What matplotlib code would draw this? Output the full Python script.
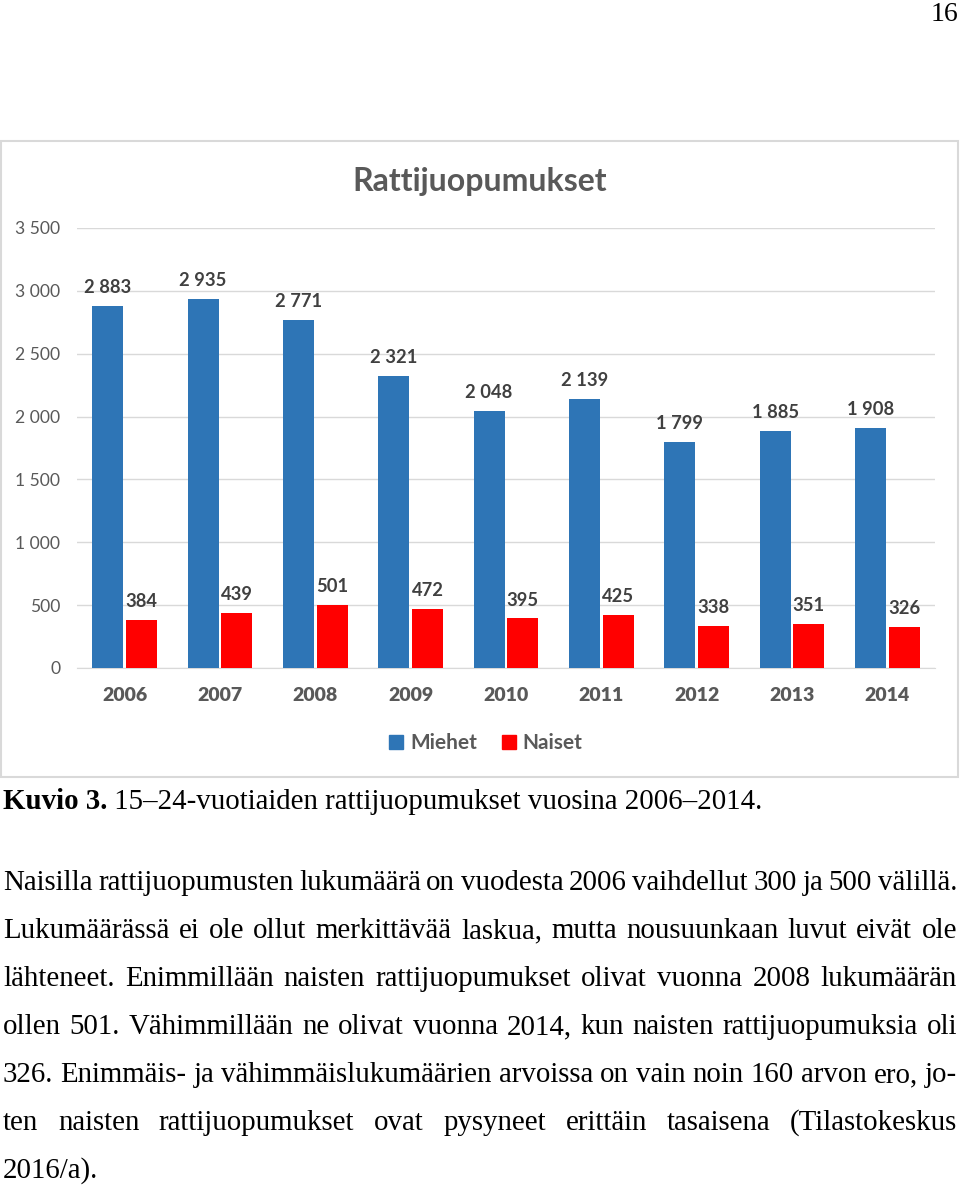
import numpy as np
import matplotlib
matplotlib.use("Agg")
import matplotlib.pyplot as plt
from matplotlib.patches import Rectangle, Patch

W, H = 960, 1197

years = ["2006", "2007", "2008", "2009", "2010", "2011", "2012", "2013", "2014"]
miehet = [2883, 2935, 2771, 2321, 2048, 2139, 1799, 1885, 1908]
naiset = [384, 439, 501, 472, 395, 425, 338, 351, 326]
yticks = [0, 500, 1000, 1500, 2000, 2500, 3000, 3500]

caption_bold = "Kuvio 3."
caption_rest = " 15\u201324-vuotiaiden rattijuopumukset vuosina 2006\u20132014."
paragraph = [
    "Naisilla rattijuopumusten lukumäärä on vuodesta 2006 vaihdellut 300 ja 500 välillä.",
    "Lukumäärässä ei ole ollut merkittävää laskua, mutta nousuunkaan luvut eivät ole",
    "lähteneet. Enimmillään naisten rattijuopumukset olivat vuonna 2008 lukumäärän",
    "ollen 501. Vähimmillään ne olivat vuonna 2014, kun naisten rattijuopumuksia oli",
    "326. Enimmäis- ja vähimmäislukumäärien arvoissa on vain noin 160 arvon ero, jo-",
    "ten naisten rattijuopumukset ovat pysyneet erittäin tasaisena (Tilastokeskus",
    "2016/a).",
]

BLUE = "#2e75b6"
RED = "#ff0000"
GRAY = "#595959"
DARK = "#404040"
GRID = "#d9d9d9"
CHART_FONT = "Lato"
SERIF = "Liberation Serif"


def fx(x):
    return x / W


def fy(y):
    return 1 - y / H


fig = plt.figure(figsize=(W / 100, H / 100), dpi=100)
fig.patch.set_facecolor("white")

# chart frame
fig.patches.append(Rectangle((fx(1), fy(777)), fx(957), (777 - 141) / H,
                             transform=fig.transFigure, fill=False,
                             edgecolor=GRID, lw=1.5))

ax = fig.add_axes([fx(77), fy(668), fx(935 - 77), (668 - 228) / H])
x = np.arange(len(years))
bw = 0.325
gap = 0.015
b1 = ax.bar(x - bw / 2 - gap, miehet, bw, color=BLUE, zorder=3)
b2 = ax.bar(x + bw / 2 + gap, naiset, bw, color=RED, zorder=3)

fmt = lambda v: f"{v:,}".replace(",", " ")
for bars, vals in ((b1, miehet), (b2, naiset)):
    for r, v in zip(bars, vals):
        ax.annotate(fmt(v), (r.get_x() + r.get_width() / 2, v),
                    xytext=(0, 7), textcoords="offset points",
                    ha="center", va="bottom", fontsize=13.2,
                    fontweight="bold", family=CHART_FONT, color=DARK)

ax.set_xlim(-0.5, len(years) - 0.5)
ax.set_ylim(0, 3500)
ax.set_yticks(yticks)
ax.set_yticklabels([fmt(t) for t in yticks], family=CHART_FONT,
                   fontsize=12.6, color=GRAY)
ax.set_xticks(x)
ax.set_xticklabels(years, family=CHART_FONT, fontsize=14,
                   fontweight="heavy", color=GRAY)
ax.tick_params(axis="y", length=0, pad=12)
ax.tick_params(axis="x", length=0, pad=14)
ax.grid(axis="y", color=GRID, lw=1, zorder=0)
for s in ("top", "right", "left"):
    ax.spines[s].set_visible(False)
ax.spines["bottom"].set_color(GRID)

fig.text(fx(480), fy(182), "Rattijuopumukset", ha="center", va="center",
         fontsize=23, fontweight="bold", family=CHART_FONT, color=GRAY)

handles = [Patch(color=BLUE), Patch(color=RED)]
fig.legend(handles, ["Miehet", "Naiset"], loc="center",
           bbox_to_anchor=(fx(486), fy(743)), ncol=2, frameon=False,
           handlelength=0.65, handleheight=0.65, handletextpad=0.35,
           columnspacing=1.2,
           prop={"family": CHART_FONT, "weight": "bold", "size": 15},
           labelcolor=GRAY)

# page text
fig.text(fx(958), fy(21), "16", ha="right", va="baseline",
         fontsize=20, family=SERIF, color="black")

renderer = fig.canvas.get_renderer()
FS = 20.8
LEFT, RIGHT = 3, 957


def word_width(t, **kw):
    tt = fig.text(0, 0, t, fontsize=FS, family=SERIF, **kw)
    w = tt.get_window_extent(renderer).width
    tt.remove()
    return w


t1 = fig.text(fx(LEFT), fy(809), caption_bold, ha="left", va="baseline",
              fontsize=FS, family=SERIF, fontweight="bold")
cw = t1.get_window_extent(renderer).width
fig.text(fx(LEFT + cw), fy(809), caption_rest, ha="left", va="baseline",
         fontsize=FS, family=SERIF)

# justified paragraph, last line left aligned
base0 = 890
step = 48
space_w = word_width("a b") - word_width("ab")
for i, line in enumerate(paragraph):
    yb = base0 + i * step
    words = line.split(" ")
    widths = [word_width(wd) for wd in words]
    if i == len(paragraph) - 1:
        sp = space_w
    else:
        sp = (RIGHT - LEFT - sum(widths)) / (len(words) - 1)
    xpos = LEFT
    for wd, ww in zip(words, widths):
        fig.text(fx(xpos), fy(yb), wd, ha="left", va="baseline",
                 fontsize=FS, family=SERIF)
        xpos += ww + sp

fig.savefig("out.png", dpi=100, facecolor="white")
